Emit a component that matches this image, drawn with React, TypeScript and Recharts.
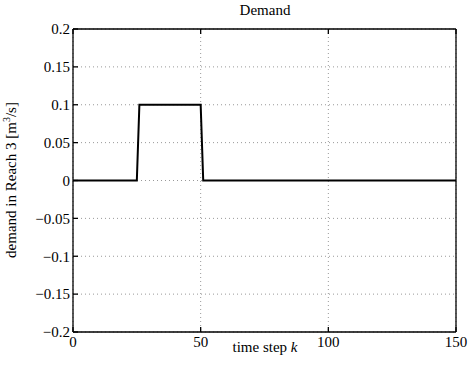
import { LineChart, Line, XAxis, YAxis, CartesianGrid } from 'recharts';

const timeSteps = [0, 25, 26, 50, 51, 150];
const demand = [0, 0, 0.1, 0.1, 0, 0];
const xTicks = [0, 50, 100, 150];
const yTicks = [-0.2, -0.15, -0.1, -0.05, 0, 0.05, 0.1, 0.15, 0.2];

const data = timeSteps.map((k, i) => ({ k, demand: demand[i] }));

const font = '"Liberation Serif", "Times New Roman", serif';
const fmt = (v: number) => String(v).replace('-', '\u2212');
const noLabel = () => <g />;
const black = { stroke: '#000', strokeWidth: 1.3 };

const XTick = ({ x, y, payload }: any) => (
  <text x={x} y={y} dy="0.75em" textAnchor="middle" fontSize={15} fill="#000" fontFamily={font}>
    {fmt(payload.value)}
  </text>
);

const YTick = ({ x, y, payload }: any) => (
  <text x={x} y={y} dy="0.35em" textAnchor="end" fontSize={15} fill="#000" fontFamily={font}>
    {fmt(payload.value)}
  </text>
);

export default function App() {
  return (
    <div
      style={{
        position: 'absolute',
        left: 0,
        top: 0,
        width: 468,
        height: 374,
        background: '#fff',
        fontFamily: font,
      }}
    >
      <div
        style={{
          position: 'absolute',
          top: 2,
          left: 73,
          width: 384,
          textAlign: 'center',
          fontSize: 15,
          color: '#000',
        }}
      >
        Demand
      </div>
      <LineChart
        width={468}
        height={374}
        data={data}
        margin={{ top: 28, right: 11, left: 0, bottom: 0 }}
      >
        <CartesianGrid stroke="#999" strokeDasharray="1 3" />
        <XAxis
          dataKey="k"
          type="number"
          domain={[0, 150]}
          ticks={xTicks}
          height={42}
          tickSize={-5}
          tickMargin={9}
          axisLine={black}
          tickLine={black}
          tick={XTick}
          label={{
            content: () => (
              <text x={265} y={352} textAnchor="middle" fontSize={15} fill="#000" fontFamily={font}>
                time step <tspan fontStyle="italic">k</tspan>
              </text>
            ),
          }}
        />
        <XAxis
          xAxisId="top"
          orientation="top"
          dataKey="k"
          type="number"
          domain={[0, 150]}
          ticks={xTicks}
          height={1}
          tickSize={-5}
          axisLine={black}
          tickLine={black}
          tick={noLabel}
        />
        <YAxis
          type="number"
          domain={[-0.2, 0.2]}
          ticks={yTicks}
          width={73}
          tickSize={-5}
          tickMargin={8}
          axisLine={black}
          tickLine={black}
          tick={YTick}
          label={{
            content: () => (
              <text
                x={16}
                y={180}
                textAnchor="middle"
                fontSize={15}
                fill="#000"
                fontFamily={font}
                transform="rotate(-90 16 180)"
              >
                demand in Reach 3 [m
                <tspan dy={-6} fontSize={10}>3</tspan>
                <tspan dy={6}>/s]</tspan>
              </text>
            ),
          }}
        />
        <YAxis
          yAxisId="right"
          orientation="right"
          type="number"
          domain={[-0.2, 0.2]}
          ticks={yTicks}
          width={1}
          tickSize={-5}
          axisLine={black}
          tickLine={black}
          tick={noLabel}
        />
        <Line
          type="linear"
          dataKey="demand"
          stroke="#000"
          strokeWidth={2}
          dot={false}
          isAnimationActive={false}
        />
      </LineChart>
    </div>
  );
}
